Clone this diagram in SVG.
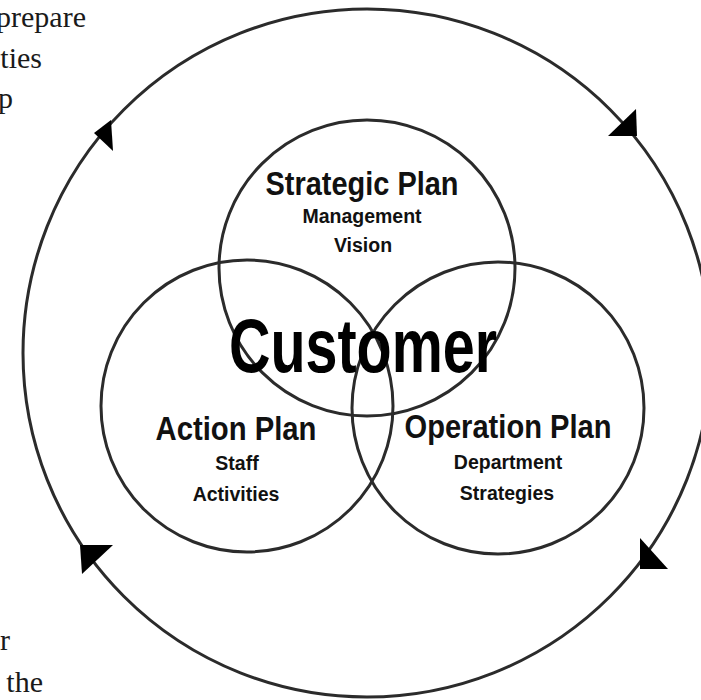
<svg xmlns="http://www.w3.org/2000/svg" width="701" height="700" viewBox="0 0 701 700">
<style>
.ring{fill:none;stroke:#2b2b2b;stroke-width:3}
.arrow{fill:#000;stroke:none}
.title{font-family:"Liberation Sans",Arial,sans-serif;font-weight:bold;font-size:33px;fill:#111;text-anchor:middle}
.sub{font-family:"Liberation Sans",Arial,sans-serif;font-weight:bold;font-size:19.5px;fill:#111;text-anchor:middle}
.big{font-family:"Liberation Sans",Arial,sans-serif;font-weight:bold;font-size:76px;fill:#000;text-anchor:middle}
.page{font-family:"Liberation Serif","Times New Roman",serif;font-size:30px;fill:#1a1a1a;text-anchor:end}
</style>
<rect width="701" height="700" fill="#fff"/>
<g id="page-text">
<text class="page" x="86" y="27">prepare</text>
<text class="page" x="42" y="68">ties</text>
<text class="page" x="13" y="108">p</text>
<text class="page" x="10" y="650">r</text>
<text class="page" x="43" y="692">the</text>
</g>
<g id="connectors">
<circle class="ring" cx="367" cy="353" r="344"/>
<polygon class="arrow" points="111,120 94,133 113,151"/>
<polygon class="arrow" points="637,136 636,109 608,136"/>
<polygon class="arrow" points="640,569 640,538 668,569"/>
<polygon class="arrow" points="80,545 113,545 82,574"/>
</g>
<g id="strategic-plan">
<circle class="ring" cx="367" cy="268" r="148"/>
<text class="title" x="362" y="195" textLength="193" lengthAdjust="spacingAndGlyphs">Strategic Plan</text>
<text class="sub" x="362" y="223">Management</text>
<text class="sub" x="363" y="252">Vision</text>
</g>
<g id="action-plan">
<circle class="ring" cx="247" cy="406" r="146"/>
<text class="title" x="236" y="440" textLength="161" lengthAdjust="spacingAndGlyphs">Action Plan</text>
<text class="sub" x="237" y="470">Staff</text>
<text class="sub" x="236" y="501">Activities</text>
</g>
<g id="operation-plan">
<circle class="ring" cx="498" cy="408" r="146"/>
<text class="title" x="508" y="438" textLength="207" lengthAdjust="spacingAndGlyphs">Operation Plan</text>
<text class="sub" x="508" y="469">Department</text>
<text class="sub" x="507" y="500">Strategies</text>
</g>
<g id="customer">
<text class="big" x="363" y="372" textLength="268" lengthAdjust="spacingAndGlyphs">Customer</text>
</g>
</svg>
